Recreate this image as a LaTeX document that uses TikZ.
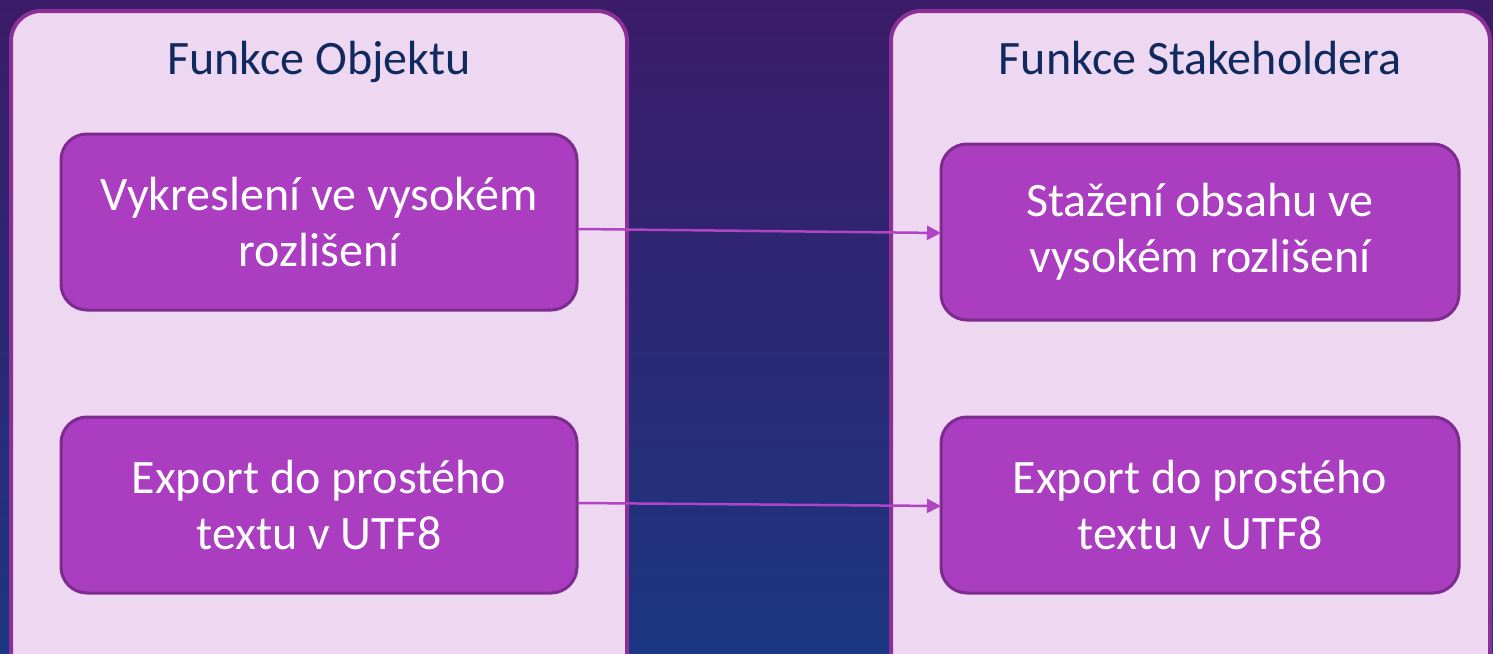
\documentclass[tikz,border=0pt]{standalone}
\usepackage{fontspec}
\setmainfont{Carlito}
\usetikzlibrary{arrows.meta}
\definecolor{bgtop}{HTML}{3B1B68}
\definecolor{bgbot}{HTML}{1B3682}
\definecolor{panelfill}{HTML}{EED8F1}
\definecolor{panelline}{HTML}{8A3096}
\definecolor{boxfill}{HTML}{AA3DC0}
\definecolor{boxline}{HTML}{7D2B8E}
\definecolor{titlecol}{HTML}{10295E}
\definecolor{arrowcol}{HTML}{B045C4}
\tikzset{
  panel/.style={draw=panelline, line width=4pt, fill=panelfill, rounded corners=30pt},
  box/.style={draw=boxline, line width=3pt, fill=boxfill, rounded corners=26pt},
  boxtext/.style={text=white, font=\fontsize{48}{56}\selectfont, align=center},
  title/.style={text=titlecol, font=\fontsize{48}{56}\selectfont, anchor=base},
  link/.style={draw=arrowcol, line width=2.5pt, -{Triangle[length=14pt,width=14pt]}}
}
\begin{document}
\begin{tikzpicture}[x=1pt,y=-1pt]
\useasboundingbox (0,0) rectangle (1493,653);
\clip (0,0) rectangle (1493,653);
\shade[top color=bgtop, bottom color=bgbot] (0,0) rectangle (1493,653);
% panels
\draw[panel] (11,11) rectangle (627,700);
\draw[panel] (891,11) rectangle (1490,700);
\node[title] (t1) at (319,74) {Funkce Objektu};
\node[title] (t2) at (1200,74) {Funkce Stakeholdera};
% boxes
\draw[box] (61,134) rectangle (577,310);
\node[boxtext] (a1) at (319,222) {Vykreslení ve vysokém\\rozlišení};
\draw[box] (61,417) rectangle (577,593);
\node[boxtext] (a2) at (319,505) {Export do prostého\\textu v UTF8};
\draw[box] (941,144) rectangle (1459,320);
\node[boxtext] (b1) at (1200,232) {Stažení obsahu ve\\vysokém rozlišení};
\draw[box] (941,417) rectangle (1459,593);
\node[boxtext] (b2) at (1200,505) {Export do prostého\\textu v UTF8};
\coordinate (a1e) at (579,229);
\coordinate (b1w) at (941,233);
\coordinate (a2e) at (578,503);
\coordinate (b2w) at (941,506);
\draw[link] (a1e) -- (b1w);
\draw[link] (a2e) -- (b2w);
\end{tikzpicture}
\end{document}
